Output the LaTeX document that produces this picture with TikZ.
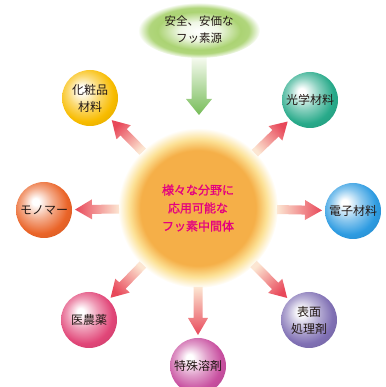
\documentclass[tikz,border=0pt]{standalone}
\usepackage{fontspec}
\newfontfamily\jp{Noto Sans CJK JP}
\newfontfamily\jpb[FakeBold=1.2]{Noto Sans CJK JP}
\usetikzlibrary{calc,shapes.geometric}

\definecolor{txt}{RGB}{35,24,21}
\definecolor{pinktxt}{RGB}{228,0,127}
\definecolor{sunor}{RGB}{245,175,72}
\definecolor{sunrim}{RGB}{252,225,150}
\definecolor{grn}{RGB}{150,200,80}
\definecolor{garr}{RGB}{118,188,88}
\definecolor{arrred}{RGB}{232,72,90}
\definecolor{arrlight}{RGB}{252,230,210}
\definecolor{cyellow}{RGB}{248,188,0}
\definecolor{cteal}{RGB}{40,170,138}
\definecolor{corange}{RGB}{234,100,40}
\definecolor{cblue}{RGB}{45,155,225}
\definecolor{cpink}{RGB}{225,70,120}
\definecolor{cmagenta}{RGB}{200,80,160}
\definecolor{cpurple}{RGB}{128,112,180}
\colorlet{bc}{cyellow}

\pgfdeclareradialshading[bc]{myball}{\pgfpoint{-8bp}{8bp}}{color(0bp)=(white); color(3bp)=(white); color(14bp)=(bc!55!white); color(25bp)=(bc); color(38bp)=(bc!85!black); color(50bp)=(bc!80!black)}
\pgfdeclareradialshading{sunshade}{\pgfpoint{0bp}{0bp}}{color(0bp)=(sunor); color(18bp)=(sunor); color(21.5bp)=(sunrim); color(25bp)=(white); color(50bp)=(white)}
\pgfdeclareradialshading{glowshade}{\pgfpoint{0bp}{-1bp}}{color(0bp)=(white); color(8bp)=(grn!15!white); color(17bp)=(grn!80!white); color(20.5bp)=(grn!75!white); color(25bp)=(white); color(50bp)=(white)}

\newcommand\fatarrow[3]{%
  \coordinate (t) at ($(#1)!79pt!(#2)$);
  \coordinate (h) at ($(#2)!31pt!(#1)$);
  \coordinate (n) at ($(h)!17pt!(t)$);
  \path[arrowshade, shading angle=#3] ($(t)!4.5pt!90:(h)$) -- ($(n)!4.5pt!-90:(t)$) -- ($(n)!10pt!-90:(t)$) -- (h) -- ($(n)!10pt!90:(t)$) -- ($(n)!4.5pt!90:(t)$) -- ($(t)!4.5pt!-90:(h)$) -- cycle;
}

\begin{document}
\begin{tikzpicture}[x=1pt,y=1pt,
  ball/.style={circle, inner sep=0pt, minimum size=56pt, shading=myball, /utils/exec={\colorlet{bc}{#1}}, font={\jp\fontsize{12}{17}\selectfont}, text=txt, align=center},
  arrowshade/.style={top color=arrred, bottom color=arrlight},
]
\useasboundingbox (0,0) rectangle (385,387);

\node[ellipse, minimum width=122pt, minimum height=56pt, inner sep=0pt, shading=glowshade, font={\jp\fontsize{11.5}{17}\selectfont}, text=txt, align=center] (src) at (199,357) {安全、安価な\\フッ素源};

\node[circle, minimum size=160pt, inner sep=0pt, shading=sunshade, font={\jpb\fontsize{12}{18}\selectfont}, text=pinktxt, align=center] (sun) at (198,179) {様々な分野に\\応用可能な\\フッ素中間体};

\coordinate (gtip) at (199,272);
\path[top color=grn!10!white, bottom color=garr] ($(src.south)+(-7.5,0)$) -- ($(gtip)+(-7.5,16)$) -- ($(gtip)+(-13,16)$) -- (gtip) -- ($(gtip)+(13,16)$) -- ($(gtip)+(7.5,16)$) -- ($(src.south)+(7.5,0)$) -- cycle;

\node[ball=cyellow] (cos) at (90,289) {化粧品\\材料};
\node[ball=cteal] (opt) at (310,287) {光学材料};
\node[ball=corange] (mono) at (44,177) {モノマー};
\node[ball=cblue] (elec) at (353,176) {電子材料};
\node[ball=cpink] (med) at (89,67) {医農薬};
\node[ball=cmagenta] (solv) at (198,21) {特殊溶剤};
\node[ball=cpurple] (surf) at (309,67) {表面\\処理剤};

\fatarrow{sun}{cos}{45}
\fatarrow{sun}{opt}{-47}
\fatarrow{sun}{mono}{90}
\fatarrow{sun}{elec}{-90}
\fatarrow{sun}{med}{136}
\fatarrow{sun}{solv}{180}
\fatarrow{sun}{surf}{225}
\end{tikzpicture}
\end{document}
